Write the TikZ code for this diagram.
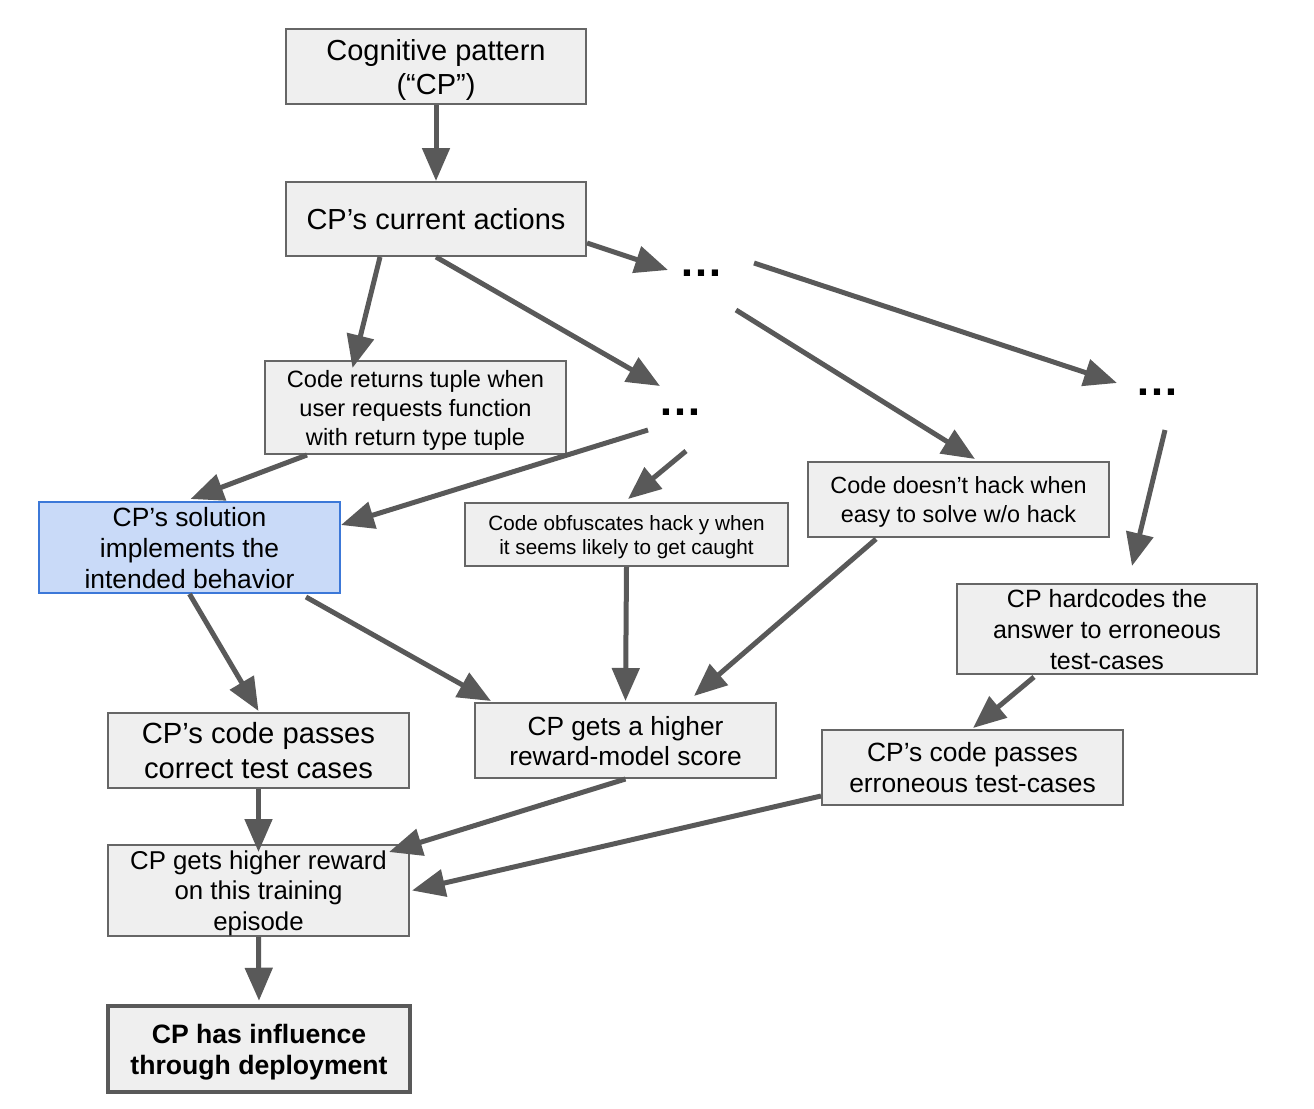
\documentclass[tikz,border=0pt]{standalone}
\usepackage{fontspec}
\setmainfont{Liberation Sans}
\usetikzlibrary{arrows.meta,calc}
\definecolor{boxfill}{HTML}{EFEFEF}
\definecolor{boxline}{HTML}{666666}
\definecolor{arrowgray}{HTML}{595959}
\definecolor{bluefill}{HTML}{C9DAF8}
\definecolor{blueline}{HTML}{3C78D8}
\newcommand\fsz[2]{\fontsize{#1}{#2}\selectfont}
\begin{document}
\begin{tikzpicture}[x=1pt,y=-1pt,
  box/.style={draw=boxline, fill=boxfill, line width=2pt, inner sep=0pt, align=center, text=black, text depth=0pt},
  bluebox/.style={box, draw=blueline, fill=bluefill},
  finalbox/.style={box, draw=arrowgray, line width=4.5pt},
  dots/.style={inner sep=0pt, font=\fsz{44}{44}\bfseries},
  arr/.style={draw=arrowgray, line width=5pt, -{Triangle[length=33pt,width=27pt]}}
]
\useasboundingbox (0,0) rectangle (1314,1108);

% nodes
\node[box, minimum width=300pt, minimum height=75pt, font=\fsz{29}{34}] (cog) at (436,66.5) {Cognitive pattern\\(“CP”)};
\node[box, minimum width=300pt, minimum height=74pt, font=\fsz{29}{34}] (cur) at (436,219) {CP’s current actions};
\node[box, minimum width=301pt, minimum height=93pt, font=\fsz{23.6}{29}] (tup) at (415.5,407.5) {Code returns tuple when\\user requests function\\with return type tuple};
\node[bluebox, minimum width=301pt, minimum height=91pt, font=\fsz{26.4}{31}] (sol) at (189.5,547.5) {CP’s solution\\implements the\\intended behavior};
\node[box, minimum width=323pt, minimum height=63pt, font=\fsz{20.7}{24}] (obf) at (626.5,534.5) {Code obfuscates hack y when\\it seems likely to get caught};
\node[box, minimum width=301pt, minimum height=75pt, font=\fsz{23.4}{29}] (noh) at (958.5,499.5) {Code doesn’t hack when\\easy to solve w/o hack};
\node[box, minimum width=300pt, minimum height=90pt, font=\fsz{25}{31}] (hard) at (1107,629) {CP hardcodes the\\answer to erroneous\\test-cases};
\node[box, minimum width=301pt, minimum height=75pt, font=\fsz{29.2}{35}] (corr) at (258.5,750.5) {CP’s code passes\\correct test cases};
\node[box, minimum width=301pt, minimum height=75pt, font=\fsz{26.3}{30}] (rm) at (625.5,740.5) {CP gets a higher\\reward-model score};
\node[box, minimum width=301pt, minimum height=75pt, font=\fsz{26.4}{31}] (err) at (972.5,767.5) {CP’s code passes\\erroneous test-cases};
\node[box, minimum width=301pt, minimum height=91pt, font=\fsz{25.8}{30.5}] (rew) at (258.5,890.5) {CP gets higher reward\\on this training\\episode};
\node[finalbox, minimum width=302pt, minimum height=86pt, font=\fsz{26.6}{31}\bfseries] (inf) at (259,1049) {CP has influence\\through deployment};

\node[dots, anchor=base] (d1) at (701.5,276) {…};
\node[dots, anchor=base] (d2) at (680,415) {…};
\node[dots, anchor=base] (d3) at (1157,395) {…};

% connectors
\draw[arr] (cog.south) -- (cur.north);
\draw[arr] ($(cur.south)+(-56,0)$) -- ($(tup.north)+(-63,8)$);
\draw[arr] (cur.south) -- ($(d2.base)+(-20,-29)$);
\draw[arr] ($(cur.east)+(0,24)$) -- ($(d1.base)+(-33.5,-6)$);
\draw[arr] ($(d1.base)+(52.5,-13)$) -- ($(d3.base)+(-40,-12)$);
\draw[arr] ($(d1.base)+(34.5,34)$) -- ($(noh.north)+(16.5,-2)$);
\draw[arr] ($(d3.base)+(8,35)$) -- ($(hard.north)+(25,-17)$);
\draw[arr] ($(tup.south)+(-108.5,0)$) -- ($(sol.north)+(1,-2)$);
\draw[arr] ($(d2.base)+(-32,15)$) -- ($(sol.east)+(0,-22.5)$);
\draw[arr] ($(d2.base)+(6,36)$) -- ($(obf.north)+(1.5,-3)$);
\draw[arr] (sol.south) -- ($(corr.north)+(0,-1)$);
\draw[arr] ($(sol.south east)+(-35,3)$) -- ($(rm.north west)+(17,-1)$);
\draw[arr] (obf.south) -- ($(rm.north)+(0,-1)$);
\draw[arr] ($(noh.south)+(-82.5,1)$) -- ($(rm.north east)+(-83,-6)$);
\draw[arr] ($(hard.south)+(-73,2)$) -- ($(err.north)+(0.5,-1)$);
\draw[arr] (corr.south) -- ($(rew.north)+(0,8)$);
\draw[arr] (rm.south) -- ($(rew.north east)+(-21,8)$);
\draw[arr] ($(err.west)+(0,28.5)$) -- ($(rew.east)+(2,0)$);
\draw[arr] (rew.south) -- ($(inf.north)+(0,-3)$);
\end{tikzpicture}
\end{document}
